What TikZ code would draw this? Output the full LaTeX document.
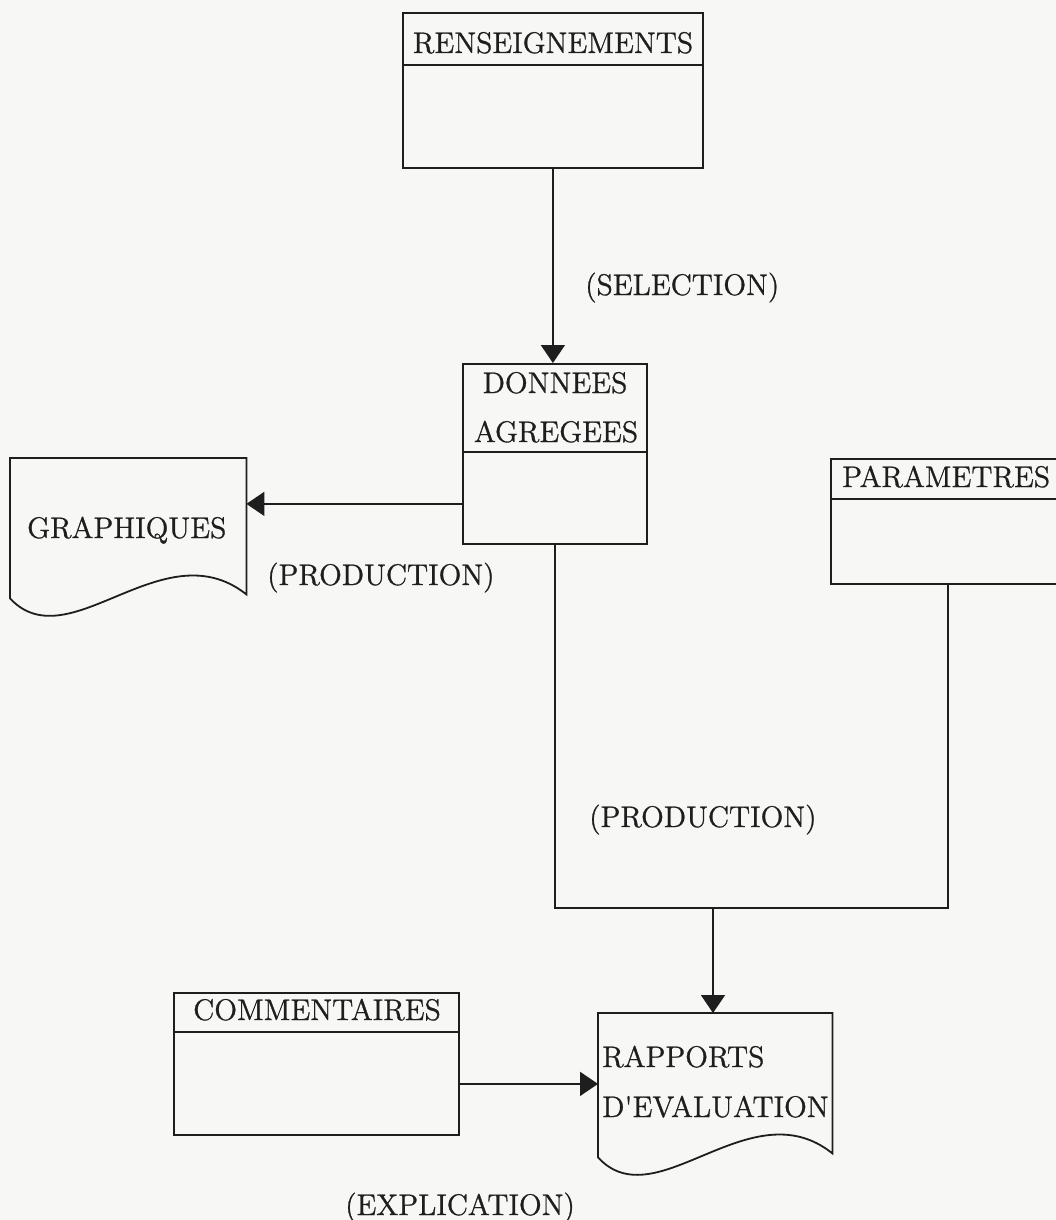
\documentclass[tikz,border=0pt]{standalone}
\usepackage{fontspec}
\newfontfamily\labfont{lmroman12-regular.otf}[FakeBold=0.9]
\usetikzlibrary{arrows.meta,calc}
\definecolor{paper}{HTML}{F7F7F5}
\definecolor{ink}{HTML}{1E1E1E}
\tikzset{
  txt/.style={inner sep=0pt, text=ink, font=\labfont\fontsize{29.8}{49}\selectfont},
  entity/.style={draw=ink, line width=1.8pt, rectangle, inner sep=0pt, anchor=north west},
  docarea/.style={rectangle, inner sep=0pt, anchor=north west},
  docline/.style={draw=ink, line width=1.8pt, line join=miter},
  divider/.style={draw=ink, line width=1.8pt},
  link/.style={draw=ink, line width=1.7pt},
  arr/.style={link, -{Triangle[length=18pt,width=24pt]}},
}
\begin{document}
\begin{tikzpicture}[x=1pt,y=-1pt]
\fill[paper] (0,0) rectangle (1056,1220);
\useasboundingbox (0,0) rectangle (1056,1220);

% entity boxes with a title band
\node[entity, minimum width=300pt, minimum height=155pt] (rens) at (402,12) {};
\draw[divider] (402,65) -- (702,65);
\node[txt, anchor=base] at (553,53) {RENSEIGNEMENTS};

\node[entity, minimum width=184pt, minimum height=180pt] (don) at (462,363) {};
\draw[divider] (462,452) -- (646,452);
\node[txt, anchor=base] at (555,393) {DONNEES};
\node[txt, anchor=base] at (556,442) {AGREGEES};

\node[entity, minimum width=234pt, minimum height=125pt] (param) at (830,458) {};
\draw[divider] (830,499) -- (1064,499);
\node[txt, anchor=base west] at (842,487) {PARAMETRES};

\node[entity, minimum width=285pt, minimum height=142pt] (comm) at (173,992) {};
\draw[divider] (173,1032) -- (458,1032);
\node[txt, anchor=base] at (317,1020) {COMMENTAIRES};

% document shapes with a wavy lower edge
\node[docarea, minimum width=236pt, minimum height=138pt] (graph) at (10,458) {};
\draw[docline] ($(graph.south west)+(0,2)$) -- (graph.north west) -- (graph.north east)
  -- ($(graph.south east)+(0,-2)$)
  .. controls ($(graph.south west)+(153,-68)$) and ($(graph.south west)+(59,65)$)
  .. ($(graph.south west)+(0,2)$) -- cycle;
\node[txt, anchor=base west] at (27,538) {GRAPHIQUES};

\node[docarea, minimum width=234pt, minimum height=142pt] (rap) at (598,1013) {};
\draw[docline] ($(rap.south west)+(0,2)$) -- (rap.north west) -- (rap.north east)
  -- ($(rap.south east)+(0,-2)$)
  .. controls ($(rap.south west)+(152,-68)$) and ($(rap.south west)+(58,65)$)
  .. ($(rap.south west)+(0,2)$) -- cycle;
\node[txt, anchor=base west] at (602,1067) {RAPPORTS};
\node[txt, anchor=base west] at (602,1117) {D\textquotesingle EVALUATION};

% connectors
\draw[arr] (rens.south) -- (rens.south |- don.north);

\coordinate (gsrc) at ([yshift=-50pt]don.west);
\draw[arr] (gsrc) -- (gsrc -| graph.east);

\coordinate (junc) at (713,908);
\draw[link] (don.south) |- (junc) -| (param.south);
\draw[arr] (junc) -- (junc |- rap.north);

\coordinate (csrc) at ([yshift=-20pt]comm.east);
\draw[arr] (csrc) -- (csrc -| rap.west);

% flow labels
\node[txt, anchor=base west] at (585,295) {(SELECTION)};
\node[txt, anchor=base west] at (267,585) {(PRODUCTION)};
\node[txt, anchor=base west] at (589,827) {(PRODUCTION)};
\node[txt, anchor=base west] at (345,1215) {(EXPLICATION)};
\end{tikzpicture}
\end{document}
